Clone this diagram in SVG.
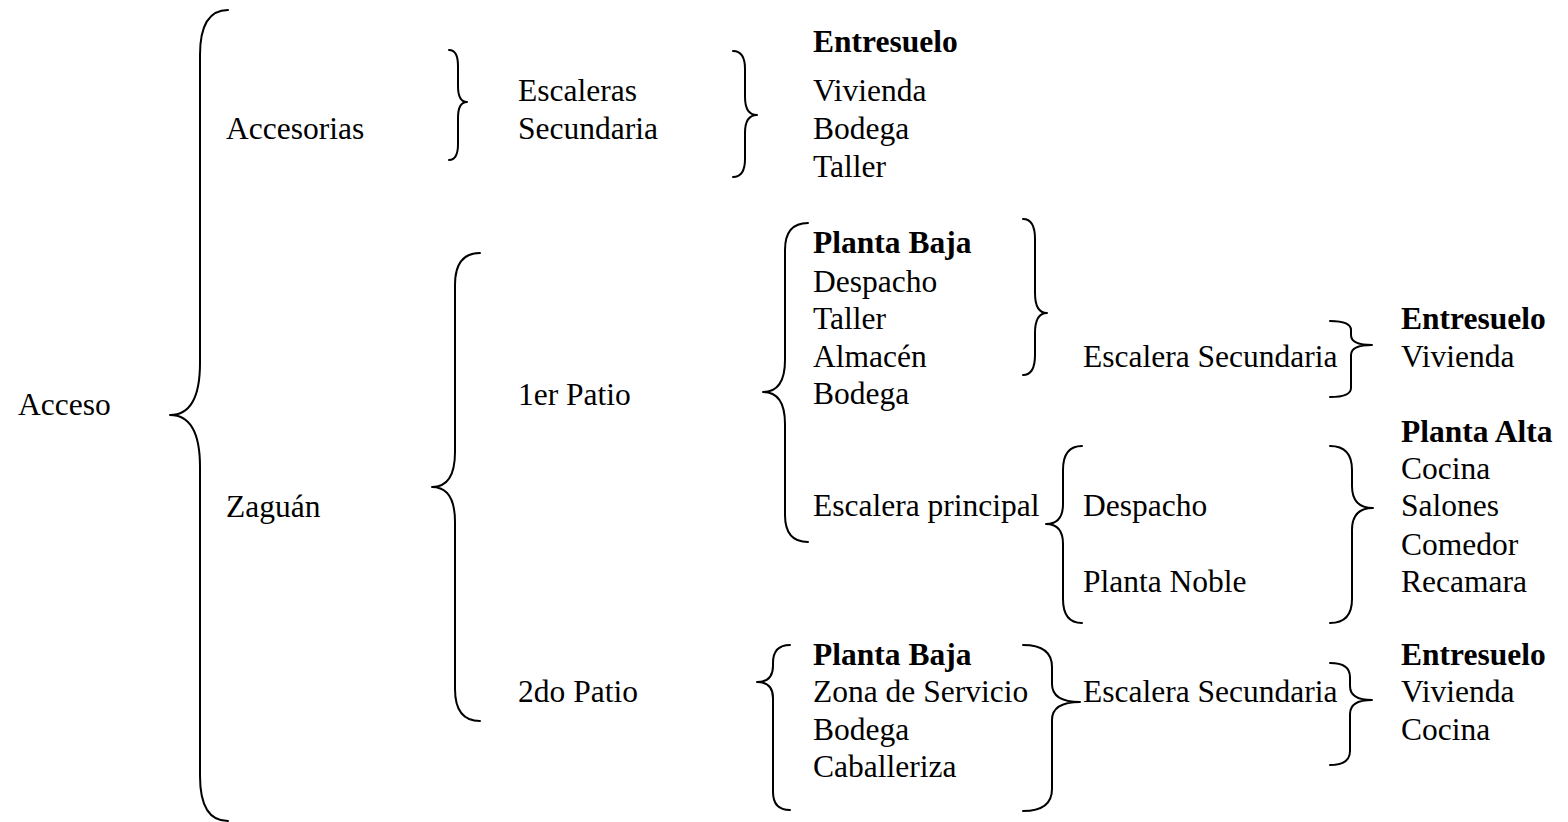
<svg xmlns="http://www.w3.org/2000/svg" width="1568" height="822" viewBox="0 0 1568 822">
<style>
text{font-family:"Liberation Serif","Times New Roman",serif;font-size:31.5px;fill:#000}
.b{font-weight:bold}
.br{fill:none;stroke:#000;stroke-width:2;stroke-linecap:round;stroke-linejoin:round}
</style>
<rect width="1568" height="822" fill="#fff"/>
<g id="connectors">
<path class="br" d="M228,10 Q200,10 200,55 L200,363 Q200,415 170,415 Q200,415 200,467 L200,776 Q200,821 228,821"/>
<path class="br" d="M449,50 Q458,50 458,66 L458,86 Q458,102 467,102 Q458,102 458,118 L458,144 Q458,160 449,160"/>
<path class="br" d="M733,51 Q745,51 745,69 L745,97 Q745,115 757,115 Q745,115 745,133 L745,159 Q745,177 733,177"/>
<path class="br" d="M480,253 Q455,253 455,285 L455,452 Q455,487 432,487 Q455,487 455,522 L455,689 Q455,721 480,721"/>
<path class="br" d="M808,223 Q785,223 785,250 L785,360 Q785,392 763,392 Q785,392 785,424 L785,515 Q785,542 808,542"/>
<path class="br" d="M1023,219 Q1035,219 1035,239 L1035,293 Q1035,313 1047,313 Q1035,313 1035,333 L1035,355 Q1035,375 1023,375"/>
<path class="br" d="M1082,446 Q1063,446 1063,470 L1063,504 Q1063,524 1046,524 Q1063,524 1063,544 L1063,599 Q1063,623 1082,623"/>
<path class="br" d="M1330,321 Q1351,321 1351,330 L1351,335 Q1351,345 1372,345 Q1351,345 1351,355 L1351,388 Q1351,397 1330,397"/>
<path class="br" d="M1330,446 Q1352,446 1352,470 L1352,486 Q1352,508 1373,508 Q1352,508 1352,530 L1352,599 Q1352,623 1330,623"/>
<path class="br" d="M790,645 Q773,645 773,663 L773,666 Q773,682 757,682 Q773,682 773,698 L773,792 Q773,810 790,810"/>
<path class="br" d="M1023,645 Q1052,645 1052,667 L1052,684 Q1052,702 1080,702 Q1052,702 1052,720 L1052,789 Q1052,811 1023,811"/>
<path class="br" d="M1330,663 Q1350,663 1350,677 L1350,686 Q1350,700 1372,700 Q1350,700 1350,714 L1350,751 Q1350,765 1330,765"/>
</g>
<g id="acceso"><text x="18" y="415">Acceso</text></g>
<g id="accesorias"><text x="226" y="139">Accesorias</text></g>
<g id="zaguan"><text x="226" y="517">Zaguán</text></g>
<g id="escaleras-secundaria"><text x="518" y="101">Escaleras</text><text x="518" y="139">Secundaria</text></g>
<g id="entresuelo-1"><text class="b" x="813" y="52">Entresuelo</text><text x="813" y="101">Vivienda</text><text x="813" y="139">Bodega</text><text x="813" y="177">Taller</text></g>
<g id="primer-patio"><text x="518" y="405">1er Patio</text></g>
<g id="segundo-patio"><text x="518" y="702">2do Patio</text></g>
<g id="planta-baja-1"><text class="b" x="813" y="253">Planta Baja</text><text x="813" y="292">Despacho</text><text x="813" y="329">Taller</text><text x="813" y="367">Almacén</text><text x="813" y="404">Bodega</text></g>
<g id="escalera-principal"><text x="813" y="516">Escalera principal</text></g>
<g id="escalera-secundaria-1"><text x="1083" y="367">Escalera Secundaria</text></g>
<g id="entresuelo-2"><text class="b" x="1401" y="329">Entresuelo</text><text x="1401" y="367">Vivienda</text></g>
<g id="planta-alta"><text class="b" x="1401" y="442">Planta Alta</text><text x="1401" y="479">Cocina</text><text x="1401" y="516">Salones</text><text x="1401" y="555">Comedor</text><text x="1401" y="592">Recamara</text></g>
<g id="despacho-noble"><text x="1083" y="516">Despacho</text><text x="1083" y="592">Planta Noble</text></g>
<g id="planta-baja-2"><text class="b" x="813" y="665">Planta Baja</text><text x="813" y="702">Zona de Servicio</text><text x="813" y="740">Bodega</text><text x="813" y="777">Caballeriza</text></g>
<g id="escalera-secundaria-2"><text x="1083" y="702">Escalera Secundaria</text></g>
<g id="entresuelo-3"><text class="b" x="1401" y="665">Entresuelo</text><text x="1401" y="702">Vivienda</text><text x="1401" y="740">Cocina</text></g>
</svg>
